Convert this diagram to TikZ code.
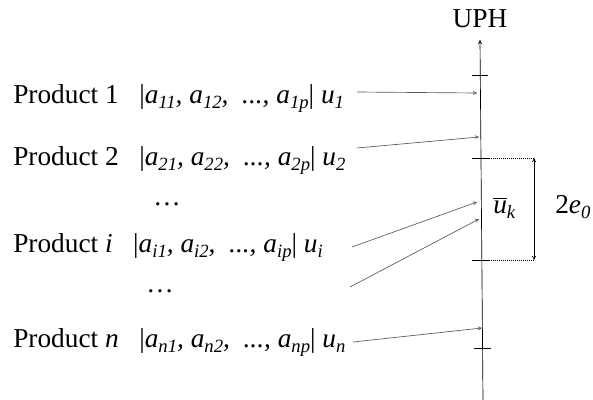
\documentclass[tikz,border=0pt]{standalone}
\usepackage{fontspec}
\setmainfont{Liberation Serif}
\usetikzlibrary{arrows.meta}
\newcommand\sbs[1]{\raisebox{-0.45ex}{\fontsize{14}{14}\selectfont\itshape #1}}
\newcommand\arow[3]{Product #1\enspace\ |\textit{a\sbs{#21}, a\sbs{#22},\ \ ..., a\sbs{#2p}}|\ \textit{u\sbs{#3}}}

\begin{document}
\begin{tikzpicture}[x=0.75pt,y=-0.75pt,
    every node/.style={font=\fontsize{20.5}{24}\selectfont,inner sep=0pt},
    feed/.style={gray!70!black,line width=0.5pt,-{To[length=3pt,width=3pt]}}]
  \useasboundingbox (0,0) rectangle (593,400);
  % axis
  \coordinate (bot) at (483,400);
  \coordinate (top) at (480,40);
  \draw[line width=0.5pt,-{To[length=3pt,width=3pt]}] (bot) -- (top);
  \node[anchor=base] (uph) at (480,27) {UPH};
  \foreach \y/\l/\r in {75/472/488, 158/472/489, 260/472/489, 348/474/491}
    \draw[line width=0.6pt] (\l,\y) -- (\r,\y);
  % products
  \node[anchor=base west] (p1) at (13,103) {\arow{1}{1}{1}};
  \node[anchor=base west] (p2) at (13,165) {\arow{2}{2}{2}};
  \node[anchor=base] (d1) at (167,205) {\dots};
  \node[anchor=base west] (pi) at (13,252) {\arow{\textit{i}}{i}{i}};
  \node[anchor=base] (d2) at (160,292) {\dots};
  \node[anchor=base west] (pn) at (13,347) {\arow{\textit{n}}{n}{n}};
  % connectors
  \foreach \n/\sx/\sy/\tx/\ty in {1/357/92/477/93, 2/357/148/479/137, 3/352/247/477/202,
                                  4/350/287/479/219, 5/353/342/482/328} {
    \coordinate (s\n) at (\sx,\sy);
    \coordinate (t\n) at (\tx,\ty);
    \draw[feed] (s\n) -- (t\n);
  }
  % band
  \coordinate (hi) at (489,158);
  \coordinate (lo) at (489,260);
  \coordinate (hiR) at (534,158);
  \coordinate (loR) at (534,260);
  \draw[densely dotted,line width=0.5pt] (hi) -- (hiR) (lo) -- (loR);
  \draw[line width=0.5pt,{To[length=3pt,width=3pt]}-{To[length=3pt,width=3pt]}] (hiR) -- (loR);
  \node[anchor=base west] (mean) at (493,213) {$\overline{\mbox{\textit{u}}}$\sbs{k}};
  \node[anchor=base west] (err) at (555,213) {2\textit{e}\sbs{0}};
\end{tikzpicture}
\end{document}
